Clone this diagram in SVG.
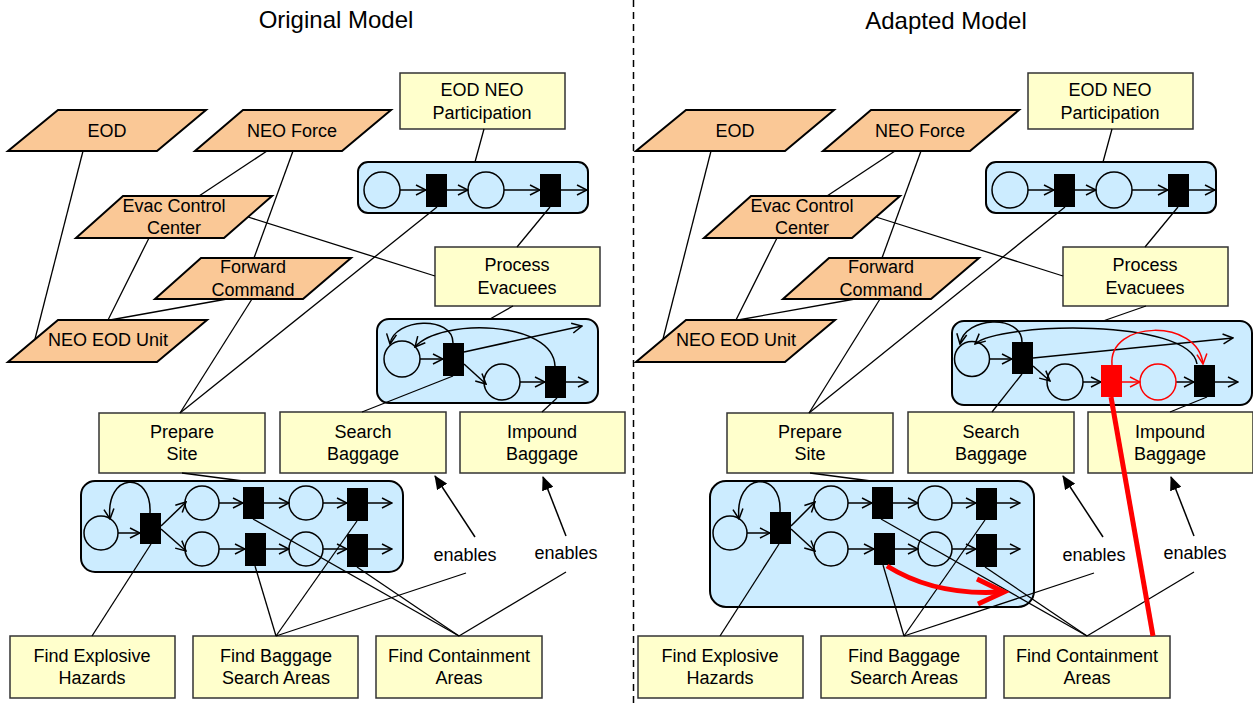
<svg xmlns="http://www.w3.org/2000/svg" width="1253" height="708" viewBox="0 0 1253 708">
<defs>
<style>
.para{fill:#FAC896;stroke:#000;stroke-width:2}
.box{fill:#FFFFCC;stroke:#333;stroke-width:1.5}
.net{fill:#CCECFF;stroke:#000;stroke-width:2}
.pl{fill:#CCECFF;stroke:#000;stroke-width:1.5}
.tr{fill:#000}
.ar{fill:none;stroke:#000;stroke-width:1.5;marker-end:url(#v)}
.arr{fill:none;stroke:#F00;stroke-width:1.5;marker-end:url(#vr)}
.ln{fill:none;stroke:#000;stroke-width:1.3}
.en{fill:none;stroke:#000;stroke-width:1.5;marker-end:url(#f)}
text{font-family:"Liberation Sans",Arial,sans-serif;font-size:18px;text-anchor:middle;fill:#000}
.ttl{font-size:24px}
</style>
<marker id="v" viewBox="0 0 12 12" refX="11" refY="6" markerWidth="12" markerHeight="12" markerUnits="userSpaceOnUse" orient="auto"><path d="M1,1 L11,6 L1,11" fill="none" stroke="#000" stroke-width="1.5"/></marker>
<marker id="vr" viewBox="0 0 12 12" refX="11" refY="6" markerWidth="12" markerHeight="12" markerUnits="userSpaceOnUse" orient="auto"><path d="M1,1 L11,6 L1,11" fill="none" stroke="#F00" stroke-width="1.5"/></marker>
<marker id="f" viewBox="0 0 14 12" refX="13" refY="6" markerWidth="14" markerHeight="12" markerUnits="userSpaceOnUse" orient="auto"><path d="M0,0 L14,6 L0,12 Z" fill="#000"/></marker>
</defs>
<rect width="1253" height="708" fill="#fff"/>
<text class="ttl" x="336" y="28">Original Model</text>
<text class="ttl" x="946" y="29">Adapted Model</text>
<line x1="633.5" y1="0" x2="633.5" y2="708" stroke="#000" stroke-width="1.5" stroke-dasharray="7,5"/>

<!-- LEFT PANEL -->
<g id="L-eod"><polygon class="para" points="58,110 206,110 157,151 8,151"/><text x="107" y="137">EOD</text></g>
<g id="L-neoforce"><polygon class="para" points="243,110 391,110 342,151 195,151"/><text x="292" y="137">NEO Force</text></g>
<g id="L-evac"><polygon class="para" points="123,196 272,196 224,238 76,238"/><text x="174" y="212">Evac Control</text><text x="174" y="234">Center</text></g>
<g id="L-fwd"><polygon class="para" points="201,258 351,258 303,299 155,299"/><text x="253" y="273">Forward</text><text x="253" y="296">Command</text></g>
<g id="L-neoeod"><polygon class="para" points="58,320 207,320 157,362 8,362"/><text x="108" y="346">NEO EOD Unit</text></g>

<g id="L-eodneo"><rect class="box" x="400" y="73" width="165" height="56"/><text x="482" y="96">EOD NEO</text><text x="482" y="119">Participation</text></g>
<g id="L-process"><rect class="box" x="435" y="247" width="165" height="59"/><text x="517" y="271">Process</text><text x="517" y="294">Evacuees</text></g>
<g id="L-prepare"><rect class="box" x="99" y="413" width="166" height="60"/><text x="182" y="438">Prepare</text><text x="182" y="460">Site</text></g>
<g id="L-search"><rect class="box" x="280" y="412" width="166" height="61"/><text x="363" y="438">Search</text><text x="363" y="460">Baggage</text></g>
<g id="L-impound"><rect class="box" x="460" y="412" width="165" height="61"/><text x="542" y="438">Impound</text><text x="542" y="460">Baggage</text></g>
<g id="L-findexp"><rect class="box" x="10" y="636" width="165" height="62"/><text x="92" y="662">Find Explosive</text><text x="92" y="684">Hazards</text></g>
<g id="L-findbag"><rect class="box" x="193" y="636" width="165" height="62"/><text x="276" y="662">Find Baggage</text><text x="276" y="684">Search Areas</text></g>
<g id="L-findcont"><rect class="box" x="376" y="636" width="166" height="62"/><text x="459" y="662">Find Containment</text><text x="459" y="684">Areas</text></g>

<g id="L-net1">
<rect class="net" x="358" y="162" width="230" height="51" rx="10"/>
<circle class="pl" cx="382" cy="190" r="18"/><circle class="pl" cx="486" cy="190" r="18"/>
<rect class="tr" x="426" y="174" width="21" height="33"/><rect class="tr" x="540" y="174" width="21" height="33"/>
<line class="ar" x1="400" y1="190" x2="426" y2="190"/><line class="ar" x1="447" y1="190" x2="468" y2="190"/>
<line class="ar" x1="504" y1="190" x2="540" y2="190"/><line class="ar" x1="561" y1="190" x2="587" y2="190"/>
</g>
<g id="L-net2">
<rect class="net" x="377" y="319" width="221" height="84" rx="12"/>
<circle class="pl" cx="402" cy="359" r="18"/><circle class="pl" cx="502" cy="382" r="18"/>
<rect class="tr" x="443" y="343" width="21" height="33"/><rect class="tr" x="545" y="366" width="21" height="32"/>
<line class="ar" x1="420" y1="359" x2="443" y2="359"/>
<line class="ar" x1="464" y1="364" x2="486" y2="384"/>
<line class="ar" x1="520" y1="382" x2="545" y2="382"/>
<line class="ar" x1="566" y1="382" x2="588" y2="382"/>
<line class="ar" x1="464" y1="352" x2="582" y2="326"/>
<path class="ar" d="M453,343 C453,315 394,318 390,344"/>
<path class="ar" d="M555,366 C553,320 440,318 415,347"/>
</g>
<g id="L-net3">
<rect class="net" x="81" y="481" width="322" height="91" rx="14"/>
<circle class="pl" cx="101" cy="533" r="17"/><circle class="pl" cx="202" cy="503" r="17"/><circle class="pl" cx="202" cy="549" r="17"/>
<circle class="pl" cx="306" cy="503" r="17"/><circle class="pl" cx="306" cy="549" r="17"/>
<rect class="tr" x="140" y="513" width="21" height="31"/>
<rect class="tr" x="243" y="487" width="21" height="32"/><rect class="tr" x="347" y="488" width="21" height="33"/>
<rect class="tr" x="245" y="533" width="21" height="33"/><rect class="tr" x="347" y="534" width="21" height="33"/>
<line class="ar" x1="118" y1="533" x2="140" y2="533"/>
<line class="ar" x1="161" y1="526" x2="186" y2="502"/><line class="ar" x1="161" y1="529" x2="186" y2="551"/>
<line class="ar" x1="219" y1="503" x2="243" y2="503"/><line class="ar" x1="264" y1="503" x2="289" y2="503"/>
<line class="ar" x1="323" y1="503" x2="347" y2="503"/><line class="ar" x1="368" y1="503" x2="392" y2="503"/>
<line class="ar" x1="219" y1="549" x2="245" y2="549"/><line class="ar" x1="266" y1="549" x2="289" y2="549"/>
<line class="ar" x1="323" y1="549" x2="347" y2="549"/><line class="ar" x1="368" y1="549" x2="392" y2="549"/>
<path class="ar" d="M150,513 C152,470 105,472 110,519"/>
</g>
<g id="L-enables1"><text x="465" y="561">enables</text></g>
<g id="L-enables2"><text x="566" y="559">enables</text></g>

<!-- RIGHT PANEL -->
<g id="R-eod"><polygon class="para" points="686,110 834,110 785,151 636,151"/><text x="735" y="137">EOD</text></g>
<g id="R-neoforce"><polygon class="para" points="871,110 1019,110 970,151 823,151"/><text x="920" y="137">NEO Force</text></g>
<g id="R-evac"><polygon class="para" points="751,196 900,196 852,238 704,238"/><text x="802" y="212">Evac Control</text><text x="802" y="234">Center</text></g>
<g id="R-fwd"><polygon class="para" points="829,258 979,258 931,299 783,299"/><text x="881" y="273">Forward</text><text x="881" y="296">Command</text></g>
<g id="R-neoeod"><polygon class="para" points="686,320 835,320 785,362 636,362"/><text x="736" y="346">NEO EOD Unit</text></g>

<g id="R-eodneo"><rect class="box" x="1028" y="73" width="165" height="56"/><text x="1110" y="96">EOD NEO</text><text x="1110" y="119">Participation</text></g>
<g id="R-process"><rect class="box" x="1063" y="247" width="165" height="59"/><text x="1145" y="271">Process</text><text x="1145" y="294">Evacuees</text></g>
<g id="R-prepare"><rect class="box" x="727" y="413" width="166" height="60"/><text x="810" y="438">Prepare</text><text x="810" y="460">Site</text></g>
<g id="R-search"><rect class="box" x="908" y="412" width="166" height="61"/><text x="991" y="438">Search</text><text x="991" y="460">Baggage</text></g>
<g id="R-impound"><rect class="box" x="1088" y="412" width="165" height="61"/><text x="1170" y="438">Impound</text><text x="1170" y="460">Baggage</text></g>
<g id="R-findexp"><rect class="box" x="638" y="636" width="165" height="62"/><text x="720" y="662">Find Explosive</text><text x="720" y="684">Hazards</text></g>
<g id="R-findbag"><rect class="box" x="821" y="636" width="165" height="62"/><text x="904" y="662">Find Baggage</text><text x="904" y="684">Search Areas</text></g>
<g id="R-findcont"><rect class="box" x="1004" y="636" width="166" height="62"/><text x="1087" y="662">Find Containment</text><text x="1087" y="684">Areas</text></g>

<g id="R-net1">
<rect class="net" x="986" y="162" width="230" height="51" rx="10"/>
<circle class="pl" cx="1010" cy="190" r="18"/><circle class="pl" cx="1114" cy="190" r="18"/>
<rect class="tr" x="1054" y="174" width="21" height="33"/><rect class="tr" x="1168" y="174" width="21" height="33"/>
<line class="ar" x1="1028" y1="190" x2="1054" y2="190"/><line class="ar" x1="1075" y1="190" x2="1096" y2="190"/>
<line class="ar" x1="1132" y1="190" x2="1168" y2="190"/><line class="ar" x1="1189" y1="190" x2="1215" y2="190"/>
</g>
<g id="R-net2">
<rect class="net" x="952" y="321" width="300" height="84" rx="12"/>
<circle class="pl" cx="972" cy="359" r="17.5"/><circle class="pl" cx="1065" cy="382" r="18"/>
<rect class="tr" x="1012" y="342" width="21" height="32"/><rect class="tr" x="1194" y="365" width="21" height="32"/>
<line class="ar" x1="990" y1="359" x2="1012" y2="359"/>
<line class="ar" x1="1033" y1="366" x2="1050" y2="381"/>
<line class="ar" x1="1083" y1="382" x2="1101" y2="382"/>
<line class="ar" x1="1176" y1="382" x2="1194" y2="382"/>
<line class="ar" x1="1215" y1="382" x2="1238" y2="382"/>
<line class="ar" x1="1033" y1="358" x2="1233" y2="338"/>
<path class="ar" d="M1022,342 C1022,314 965,316 960,344"/>
<path class="ar" d="M1197,364 C1190,318 1000,322 975,344"/>
</g>
<g id="R-net3">
<rect class="net" x="710" y="481" width="324" height="126" rx="16"/>
<circle class="pl" cx="730" cy="533" r="17"/><circle class="pl" cx="831" cy="503" r="17"/><circle class="pl" cx="831" cy="549" r="17"/>
<circle class="pl" cx="935" cy="503" r="17"/><circle class="pl" cx="935" cy="549" r="17"/>
<rect class="tr" x="770" y="512" width="21" height="32"/>
<rect class="tr" x="872" y="487" width="21" height="32"/><rect class="tr" x="976" y="488" width="21" height="32"/>
<rect class="tr" x="874" y="533" width="21" height="32"/><rect class="tr" x="976" y="534" width="21" height="33"/>
<line class="ar" x1="747" y1="533" x2="770" y2="533"/>
<line class="ar" x1="791" y1="526" x2="815" y2="502"/><line class="ar" x1="791" y1="529" x2="815" y2="551"/>
<line class="ar" x1="848" y1="503" x2="872" y2="503"/><line class="ar" x1="893" y1="503" x2="918" y2="503"/>
<line class="ar" x1="952" y1="503" x2="976" y2="503"/><line class="ar" x1="997" y1="503" x2="1020" y2="503"/>
<line class="ar" x1="848" y1="549" x2="874" y2="549"/><line class="ar" x1="895" y1="549" x2="918" y2="549"/>
<line class="ar" x1="952" y1="549" x2="976" y2="549"/><line class="ar" x1="997" y1="549" x2="1020" y2="549"/>
<path class="ar" d="M780,512 C782,469 734,472 739,519"/>
</g>
<g id="R-enables1"><text x="1094" y="561">enables</text></g>
<g id="R-enables2"><text x="1195" y="559">enables</text></g>

<!-- CONNECTORS -->
<g id="connectors">
<line class="ln" x1="83" y1="151" x2="35" y2="339"/>
<line class="ln" x1="267" y1="151" x2="199" y2="196"/>
<line class="ln" x1="293" y1="151" x2="254" y2="258"/>
<line class="ln" x1="248" y1="217" x2="435" y2="276"/>
<line class="ln" x1="149" y1="238" x2="108" y2="320"/>
<line class="ln" x1="227" y1="299" x2="110" y2="320"/>
<line class="ln" x1="252" y1="299" x2="180" y2="413"/>
<line class="ln" x1="437" y1="207" x2="180" y2="413"/>
<line class="ln" x1="484" y1="129" x2="475" y2="162"/>
<line class="ln" x1="550" y1="207" x2="517" y2="247"/>
<line class="ln" x1="513" y1="306" x2="490" y2="319"/>
<line class="ln" x1="453" y1="376" x2="362" y2="412"/>
<line class="ln" x1="557" y1="398" x2="542" y2="412"/>
<line class="ln" x1="182" y1="473" x2="243" y2="481"/>
<line class="ln" x1="151" y1="544" x2="92" y2="636"/>
<line class="ln" x1="255" y1="566" x2="276" y2="636"/>
<line class="ln" x1="357" y1="521" x2="276" y2="636"/>
<line class="ln" x1="253" y1="519" x2="459" y2="636"/>
<line class="ln" x1="357" y1="567" x2="459" y2="636"/>
<line class="ln" x1="466" y1="573" x2="276" y2="636"/>
<line class="ln" x1="566" y1="572" x2="459" y2="636"/>
<line class="en" x1="475" y1="537" x2="435" y2="476"/>
<line class="en" x1="566" y1="536" x2="543" y2="477"/>

<line class="ln" x1="711" y1="151" x2="663" y2="339"/>
<line class="ln" x1="895" y1="151" x2="827" y2="196"/>
<line class="ln" x1="921" y1="151" x2="882" y2="258"/>
<line class="ln" x1="876" y1="217" x2="1063" y2="276"/>
<line class="ln" x1="777" y1="238" x2="736" y2="320"/>
<line class="ln" x1="855" y1="299" x2="738" y2="320"/>
<line class="ln" x1="880" y1="299" x2="809" y2="413"/>
<line class="ln" x1="1065" y1="207" x2="809" y2="413"/>
<line class="ln" x1="1112" y1="129" x2="1103" y2="162"/>
<line class="ln" x1="1178" y1="207" x2="1145" y2="247"/>
<line class="ln" x1="1146" y1="306" x2="1103" y2="321"/>
<line class="ln" x1="1022" y1="374" x2="992" y2="412"/>
<line class="ln" x1="1207" y1="397" x2="1170" y2="412"/>
<line class="ln" x1="810" y1="473" x2="871" y2="481"/>
<line class="ln" x1="779" y1="544" x2="720" y2="636"/>
<line class="ln" x1="883" y1="565" x2="904" y2="636"/>
<line class="ln" x1="985" y1="520" x2="904" y2="636"/>
<line class="ln" x1="881" y1="519" x2="1087" y2="636"/>
<line class="ln" x1="985" y1="567" x2="1087" y2="636"/>
<line class="ln" x1="1094" y1="573" x2="904" y2="636"/>
<line class="ln" x1="1194" y1="572" x2="1087" y2="636"/>
<line class="en" x1="1103" y1="537" x2="1063" y2="476"/>
<line class="en" x1="1194" y1="536" x2="1171" y2="477"/>
</g>

<!-- ADAPTATION (red) -->
<g id="adaptation">
<rect x="1101" y="365" width="21" height="32" fill="#F00"/>
<circle cx="1158" cy="382" r="18" fill="#CCECFF" stroke="#F00" stroke-width="1.5"/>
<line class="arr" x1="1122" y1="382" x2="1140" y2="382"/>
<path class="arr" d="M1112,365 C1108,320 1198,318 1203,364"/>
<line x1="1111" y1="397" x2="1153" y2="636" stroke="#F00" stroke-width="5"/>
<path d="M887,566 Q935,596 1001,592" fill="none" stroke="#F00" stroke-width="5"/>
<polyline points="977,579 1004,592 978,604" fill="none" stroke="#F00" stroke-width="5" stroke-linejoin="miter"/>
</g>
</svg>
